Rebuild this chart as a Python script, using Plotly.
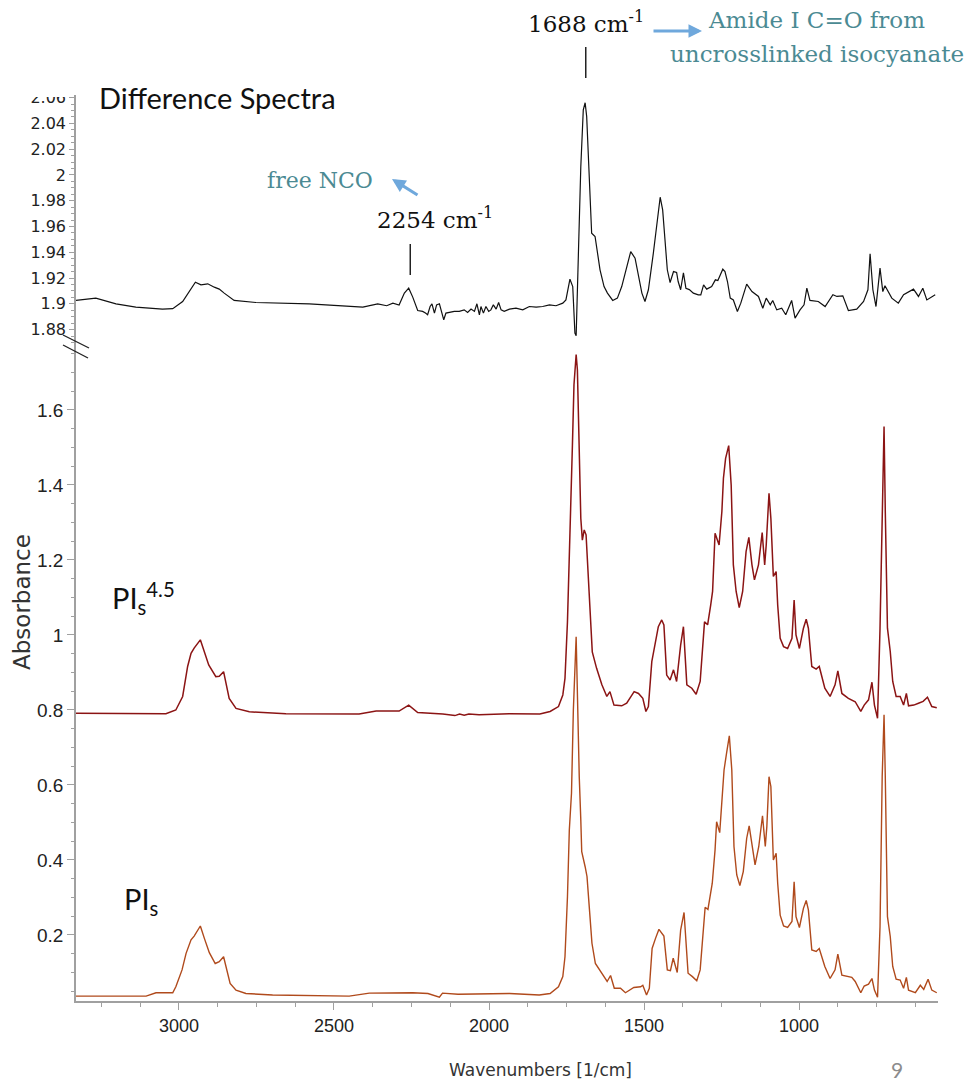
import plotly.graph_objects as go

# ---------------- data ----------------
diff_wn = [3332, 3268, 3203, 3139, 3053, 3020, 2988, 2967, 2947, 2929, 2907, 2886, 2870, 2854,
           2822, 2752, 2580, 2407, 2359, 2330, 2310, 2290, 2273, 2259, 2246, 2230, 2214, 2205,
           2198, 2190, 2184, 2176, 2169, 2160, 2153, 2146, 2139, 2128, 2112, 2096, 2080, 2069,
           2058, 2047, 2039, 2031, 2026, 2018, 2010, 2001, 1994, 1986, 1977, 1969, 1961, 1951,
           1934, 1913, 1891, 1870, 1848, 1827, 1805, 1784, 1762, 1752, 1739, 1730, 1723, 1719,
           1712, 1704, 1696, 1690, 1685, 1680, 1674, 1669, 1658, 1642, 1629, 1618, 1601, 1586,
           1572, 1556, 1543, 1529, 1518, 1507, 1497, 1486, 1470, 1459, 1448, 1440, 1432, 1425,
           1416, 1405, 1395, 1390, 1382, 1373, 1365, 1354, 1341, 1325, 1317, 1308, 1298, 1282,
           1270, 1262, 1246, 1239, 1231, 1222, 1212, 1199, 1188, 1169, 1152, 1131, 1117, 1106,
           1093, 1085, 1072, 1056, 1043, 1024, 1013, 997, 984, 975, 965, 938, 916, 891, 878,
           859, 841, 814, 792, 778, 771, 762, 752, 739, 730, 723, 701, 680, 663, 631, 615, 601,
           588, 561]
diff_abs = [1.9026, 1.9044, 1.9000, 1.8974, 1.8959, 1.8962, 1.9018, 1.9095, 1.9168, 1.9147,
            1.9155, 1.9129, 1.9114, 1.9083, 1.9026, 1.9010, 1.9000, 1.8974, 1.9000, 1.8985,
            1.9005, 1.8990, 1.9083, 1.9121, 1.9052, 1.8948, 1.8941, 1.8928, 1.8915, 1.8979,
            1.9000, 1.8928, 1.8992, 1.9000, 1.8941, 1.8876, 1.8928, 1.8933, 1.8941, 1.8941,
            1.8953, 1.8933, 1.8959, 1.8941, 1.9000, 1.8915, 1.8979, 1.8928, 1.8979, 1.8941,
            1.8953, 1.8992, 1.8959, 1.9010, 1.8953, 1.8941, 1.8959, 1.8966, 1.8953, 1.8979,
            1.8974, 1.8979, 1.8992, 1.8985, 1.9005, 1.9030, 1.9191, 1.9134, 1.8773, 1.8752,
            1.9367, 2.0064, 2.0504, 2.0560, 2.0452, 2.0142, 1.9729, 1.9548, 1.9522, 1.9264,
            1.9134, 1.9083, 1.9026, 1.9044, 1.9134, 1.9277, 1.9405, 1.9354, 1.9212, 1.9083,
            1.9018, 1.9109, 1.9393, 1.9626, 1.9827, 1.9729, 1.9444, 1.9264, 1.9165, 1.9250,
            1.9243, 1.9173, 1.9109, 1.9240, 1.9121, 1.9110, 1.9083, 1.9070, 1.9070, 1.9147,
            1.9114, 1.9134, 1.9186, 1.9180, 1.9269, 1.9250, 1.9173, 1.9044, 1.9030, 1.8940,
            1.9005, 1.9153, 1.9095, 1.9057, 1.8966, 1.9044, 1.8992, 1.9026, 1.8953, 1.8966,
            1.8915, 1.9026, 1.8889, 1.8953, 1.8992, 1.9121, 1.9026, 1.9018, 1.8979, 1.9070,
            1.9057, 1.9062, 1.8948, 1.8959, 1.9018, 1.9109, 1.9388, 1.9109, 1.8979, 1.9277,
            1.9095, 1.9140, 1.9044, 1.9005, 1.9070, 1.9114, 1.9057, 1.9121, 1.9030, 1.9070]

pis45_wn = [3332, 3246, 3240, 3042, 3010, 2988, 2972, 2961, 2951, 2931, 2920, 2904, 2881, 2870,
            2856, 2848, 2838, 2816, 2773, 2655, 2419, 2364, 2290, 2259, 2230, 2149, 2110, 2095,
            2080, 2065, 2032, 1935, 1836, 1803, 1776, 1762, 1755, 1747, 1739, 1731, 1726, 1719,
            1715, 1709, 1704, 1699, 1693, 1687, 1680, 1674, 1667, 1653, 1636, 1620, 1610, 1597,
            1572, 1556, 1532, 1518, 1504, 1494, 1486, 1475, 1465, 1454, 1443, 1436, 1427, 1416,
            1405, 1395, 1382, 1373, 1362, 1346, 1332, 1319, 1305, 1295, 1285, 1279, 1271, 1258,
            1249, 1244, 1237, 1227, 1219, 1212, 1203, 1193, 1182, 1171, 1162, 1152, 1144, 1131,
            1119, 1111, 1106, 1097, 1091, 1083, 1074, 1069, 1061, 1050, 1037, 1023, 1016, 1010,
            999, 986, 977, 970, 959, 945, 935, 917, 900, 884, 875, 862, 841, 819, 801, 790, 776,
            765, 757, 747, 739, 732, 726, 722, 715, 706, 698, 687, 674, 663, 654, 647, 630, 615,
            600, 586, 572, 556]
pis45_abs = [0.791, 0.791, 0.789, 0.790, 0.800, 0.836, 0.916, 0.951, 0.965, 0.987, 0.960, 0.920,
             0.889, 0.890, 0.902, 0.871, 0.831, 0.804, 0.795, 0.790, 0.789, 0.797, 0.797, 0.813,
             0.793, 0.789, 0.785, 0.789, 0.786, 0.789, 0.787, 0.790, 0.789, 0.796, 0.809, 0.840,
             0.884, 1.035, 1.240, 1.507, 1.667, 1.748, 1.707, 1.507, 1.311, 1.253, 1.280, 1.267,
             1.169, 1.062, 0.955, 0.911, 0.867, 0.836, 0.849, 0.813, 0.811, 0.818, 0.849, 0.844,
             0.831, 0.796, 0.809, 0.929, 0.973, 1.022, 1.040, 1.027, 0.893, 0.880, 0.907, 0.876,
             0.973, 1.022, 0.867, 0.858, 0.842, 0.876, 1.035, 1.027, 1.080, 1.116, 1.271, 1.240,
             1.329, 1.418, 1.471, 1.505, 1.400, 1.187, 1.116, 1.073, 1.116, 1.222, 1.260, 1.187,
             1.147, 1.187, 1.273, 1.187, 1.240, 1.378, 1.311, 1.156, 1.169, 1.080, 0.991, 0.969,
             0.964, 0.991, 1.093, 1.000, 0.964, 1.018, 1.042, 1.018, 0.916, 0.909, 0.916, 0.858,
             0.836, 0.867, 0.904, 0.844, 0.831, 0.822, 0.796, 0.813, 0.827, 0.874, 0.813, 0.778,
             1.018, 1.373, 1.556, 1.329, 1.018, 0.956, 0.876, 0.836, 0.836, 0.813, 0.844, 0.811,
             0.813, 0.818, 0.823, 0.834, 0.809, 0.806]

pis_wn = [3332, 3106, 3074, 3020, 3010, 2990, 2977, 2961, 2951, 2931, 2918, 2902, 2883, 2870,
          2856, 2850, 2835, 2816, 2784, 2698, 2451, 2386, 2246, 2197, 2160, 2150, 2100, 1934,
          1838, 1803, 1776, 1762, 1755, 1747, 1741, 1734, 1728, 1719, 1715, 1709, 1704, 1701,
          1690, 1684, 1676, 1668, 1657, 1640, 1619, 1608, 1596, 1576, 1560, 1533, 1511, 1504,
          1492, 1483, 1474, 1463, 1452, 1436, 1425, 1415, 1406, 1393, 1382, 1371, 1358, 1344,
          1330, 1319, 1303, 1294, 1280, 1271, 1266, 1256, 1247, 1242, 1234, 1225, 1217, 1210,
          1201, 1191, 1180, 1169, 1161, 1151, 1142, 1130, 1118, 1109, 1104, 1097, 1091, 1083,
          1074, 1069, 1061, 1050, 1037, 1023, 1016, 1010, 999, 986, 977, 970, 959, 945, 935,
          917, 900, 884, 875, 862, 830, 819, 801, 790, 776, 765, 757, 747, 739, 732, 726, 722,
          715, 706, 698, 687, 674, 663, 654, 647, 625, 609, 598, 584, 572, 556]
pis_abs = [0.037, 0.037, 0.046, 0.046, 0.062, 0.107, 0.151, 0.187, 0.197, 0.224, 0.191, 0.153,
           0.124, 0.129, 0.142, 0.120, 0.071, 0.053, 0.044, 0.040, 0.037, 0.045, 0.046, 0.044,
           0.034, 0.045, 0.042, 0.044, 0.040, 0.044, 0.062, 0.089, 0.142, 0.302, 0.480, 0.578,
           0.800, 0.995, 0.800, 0.622, 0.507, 0.422, 0.382, 0.356, 0.267, 0.178, 0.124, 0.102,
           0.076, 0.092, 0.058, 0.058, 0.046, 0.060, 0.062, 0.066, 0.040, 0.058, 0.164, 0.191,
           0.215, 0.197, 0.107, 0.105, 0.138, 0.100, 0.213, 0.260, 0.098, 0.089, 0.078, 0.107,
           0.274, 0.268, 0.338, 0.427, 0.502, 0.473, 0.569, 0.640, 0.684, 0.731, 0.640, 0.436,
           0.360, 0.332, 0.369, 0.458, 0.491, 0.436, 0.387, 0.436, 0.518, 0.436, 0.489, 0.622,
           0.596, 0.400, 0.418, 0.338, 0.253, 0.224, 0.220, 0.236, 0.342, 0.249, 0.220, 0.271,
           0.292, 0.267, 0.160, 0.156, 0.164, 0.116, 0.084, 0.107, 0.149, 0.093, 0.087, 0.076,
           0.046, 0.064, 0.069, 0.084, 0.053, 0.034, 0.222, 0.622, 0.787, 0.622, 0.249, 0.196,
           0.116, 0.082, 0.080, 0.058, 0.087, 0.053, 0.046, 0.066, 0.055, 0.082, 0.053, 0.046]

peak_labels = [1688, 2254]
x_ticks = [1000, 1500, 2000, 2500, 3000]

# ---------------- layout helpers (reference pixel -> paper) ----------------
OFF = 8                      # page body margin of the html page
W, H = 980 - OFF, 1082 - OFF
L, R, T, B = 76 - OFF, 980 - 938, 95 - OFF, 1082 - 1001
PW, PH = W - L - R, H - T - B


def px(x):
    return (x - OFF - L) / PW


def py(y):
    return (H - B - (y - OFF)) / PH


SPLIT = 0.724
tickfam = "Liberation Sans, Arial, sans-serif"
serif = "DejaVu Serif, Liberation Serif, serif"
teal = "#4B8A93"
blue = "#6FA8DC"

fig = go.Figure()
fig.add_trace(go.Scatter(x=pis_wn, y=pis_abs, mode="lines",
                         line=dict(color="#B04A1C", width=1.4), xaxis="x", yaxis="y"))
fig.add_trace(go.Scatter(x=pis45_wn, y=pis45_abs, mode="lines",
                         line=dict(color="#8B1414", width=1.5), xaxis="x", yaxis="y"))
fig.add_trace(go.Scatter(x=diff_wn, y=diff_abs, mode="lines",
                         line=dict(color="#111111", width=1.2), xaxis="x2", yaxis="y2"))

axis_gray = "#A0A0A0"
fig.update_layout(
    width=W, height=H, autosize=False,
    margin=dict(l=L, r=R, t=T, b=B),
    paper_bgcolor="white", plot_bgcolor="white",
    showlegend=False,
    xaxis=dict(domain=[0, 1], anchor="y", range=[3332, 552], showgrid=False, zeroline=False,
               showline=True, linecolor=axis_gray, linewidth=2,
               tickmode="array", tickvals=x_ticks, ticks="outside", ticklen=7,
               tickcolor=axis_gray, tickfont=dict(family=tickfam, size=18, color="#222"),
               minor=dict(dtick=125, tick0=0, ticks="outside", ticklen=4, tickcolor=axis_gray)),
    xaxis2=dict(domain=[0, 1], anchor="y2", matches="x", visible=False),
    yaxis=dict(domain=[0, SPLIT], range=[0.024, 1.773], showgrid=False, zeroline=False,
               showline=True, linecolor=axis_gray, linewidth=1.5,
               tick0=0, dtick=0.2, ticks="outside", ticklen=7, tickcolor=axis_gray,
               tickfont=dict(family=tickfam, size=19, color="#222"),
               minor=dict(dtick=0.05, tick0=0, ticks="outside", ticklen=3, tickcolor=axis_gray)),
    yaxis2=dict(domain=[SPLIT, 1], range=[1.868, 2.062], showgrid=False, zeroline=False,
                showline=True, linecolor=axis_gray, linewidth=1.5,
                tick0=0, dtick=0.02, ticks="outside", ticklen=5, tickcolor=axis_gray,
                tickfont=dict(family="DejaVu Sans, Verdana, sans-serif", size=16, color="#222"),
                minor=dict(dtick=0.005, tick0=0, ticks="outside", ticklen=3, tickcolor=axis_gray)),
)

shapes = []
# marker lines at the labelled peaks
shapes.append(dict(type="line", xref="x", yref="paper", x0=peak_labels[0], x1=peak_labels[0],
                   y0=py(47), y1=py(78), line=dict(color="#222", width=1.5)))
shapes.append(dict(type="line", xref="x", yref="paper", x0=peak_labels[1], x1=peak_labels[1],
                   y0=py(244), y1=py(275), line=dict(color="#222", width=1.5)))
# axis break marks
shapes.append(dict(type="line", xref="paper", yref="paper", x0=px(63), x1=px(89),
                   y0=py(335), y1=py(348), line=dict(color="#222", width=1.3)))
shapes.append(dict(type="line", xref="paper", yref="paper", x0=px(63), x1=px(88),
                   y0=py(345), y1=py(358), line=dict(color="#222", width=1.3)))
# crop of the top tick label (as in the slide)
shapes.append(dict(type="rect", xref="paper", yref="paper", x0=px(8), x1=px(74),
                   y0=py(97), y1=py(8), fillcolor="white", line=dict(width=0), layer="above"))
fig.update_layout(shapes=shapes)

ann = []
ann.append(dict(xref="paper", yref="paper", x=px(97), y=py(97), xanchor="left", yanchor="middle",
                text="Difference Spectra", showarrow=False,
                font=dict(family="Lato, Noto Sans, sans-serif", size=29, color="#111")))
ann.append(dict(xref="x", yref="paper", x=peak_labels[0], y=py(22), xanchor="center", yanchor="middle",
                text=f"{peak_labels[0]} cm<sup>-1</sup>", showarrow=False,
                font=dict(family=serif, size=23, color="#111")))
ann.append(dict(xref="x", yref="paper", x=peak_labels[1] - 80, y=py(218), xanchor="center", yanchor="middle",
                text=f"{peak_labels[1]} cm<sup>-1</sup>", showarrow=False,
                font=dict(family=serif, size=23, color="#111")))
ann.append(dict(xref="paper", yref="paper", x=px(816), y=py(20), xanchor="center", yanchor="middle",
                text="Amide I C=O from", showarrow=False, font=dict(family=serif, size=23, color=teal)))
ann.append(dict(xref="paper", yref="paper", x=px(817), y=py(54), xanchor="center", yanchor="middle",
                text="uncrosslinked isocyanate", showarrow=False, font=dict(family=serif, size=23, color=teal)))
ann.append(dict(xref="paper", yref="paper", x=px(320), y=py(180), xanchor="center", yanchor="middle",
                text="free NCO", showarrow=False, font=dict(family=serif, size=22, color=teal)))
# arrows
ann.append(dict(xref="paper", yref="paper", x=px(702), y=py(31), ax=-50, ay=0, text="",
                showarrow=True, arrowhead=2, arrowsize=0.9, arrowwidth=3, arrowcolor=blue))
ann.append(dict(xref="paper", yref="paper", x=px(392), y=py(179), ax=27, ay=17, text="",
                showarrow=True, arrowhead=2, arrowsize=0.9, arrowwidth=3, arrowcolor=blue))
# sample labels
ann.append(dict(xref="paper", yref="paper", x=px(110), y=py(598), xanchor="left", yanchor="middle",
                text="PI<sub>s</sub><sup>4.5</sup>", showarrow=False,
                font=dict(family="Lato, Noto Sans, sans-serif", size=29, color="#111")))
ann.append(dict(xref="paper", yref="paper", x=px(122), y=py(900), xanchor="left", yanchor="middle",
                text="PI<sub>s</sub>", showarrow=False,
                font=dict(family="Lato, Noto Sans, sans-serif", size=29, color="#111")))
# axis titles
ann.append(dict(xref="paper", yref="paper", x=px(22), y=py(602), xanchor="center", yanchor="middle",
                text="Absorbance", textangle=-90, showarrow=False,
                font=dict(family="DejaVu Sans, Verdana, sans-serif", size=23, color="#333")))
ann.append(dict(xref="paper", yref="paper", x=px(540), y=py(1070), xanchor="center", yanchor="middle",
                text="Wavenumbers [1/cm]", showarrow=False,
                font=dict(family="DejaVu Sans, Verdana, sans-serif", size=17, color="#333")))
ann.append(dict(xref="paper", yref="paper", x=px(897), y=py(1069), xanchor="center", yanchor="middle",
                text="9", showarrow=False,
                font=dict(family="Lato, Noto Sans, sans-serif", size=21, color="#8C8C8C")))
fig.update_layout(annotations=ann)

fig.write_html("out.html")
